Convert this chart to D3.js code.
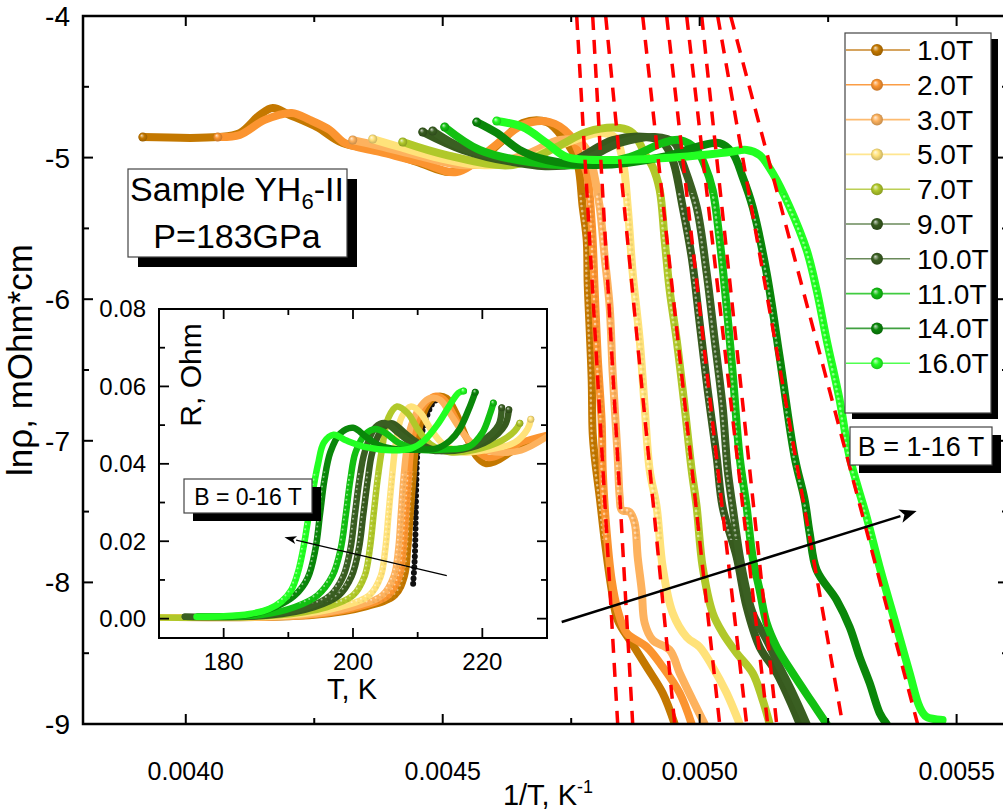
<!DOCTYPE html>
<html><head><meta charset="utf-8">
<script src="https://cdn.jsdelivr.net/npm/d3@7"></script>
<style>
html,body{margin:0;padding:0;background:#fff;}
svg{display:block;font-family:"Liberation Sans",Arial,Helvetica,sans-serif;}
</style></head><body>
<svg id="chart" width="1003" height="811"></svg>
<script>
// Field labels and colours (one per magnetic field)
const fields = ["1.0T","2.0T","3.0T","5.0T","7.0T","9.0T","10.0T","11.0T","14.0T","16.0T"];
const colors = ["#c47800","#fb9430","#fdb25e","#ffe27a","#b0c82a","#375a1e","#3a5f22","#12c012","#0a870a","#22ff22"];
const legendLineColors = ["#c8862a","#fb9d45","#fdbb70","#ffe690","#bccf55","#6a8a5a","#6a8a5a","#40cc40","#40a040","#50ff50"];

// ln(rho) versus 1/T, points as [1/T (K^-1), ln rho]
const lnRho1T = [[0.0039164,-4.855],[0.0040623,-4.855],[0.0041051,-4.826],[0.004144,-4.699],[0.0041693,-4.650],[0.0042023,-4.699],[0.0042549,-4.784],[0.0043055,-4.897],[0.0043774,-4.946],[0.0044553,-5.038],[0.0045136,-5.102],[0.004572,-5.017],[0.0046109,-4.897],[0.0046556,-4.756],[0.0047023,-4.749],[0.0047374,-4.876],[0.0047607,-5.017],[0.0047724,-5.349],[0.0047802,-5.582],[0.0047821,-5.886],[0.004786,-6.218],[0.0047899,-6.571],[0.0047918,-6.945],[0.0047957,-7.114],[0.0048055,-7.397],[0.0048152,-7.701],[0.0048288,-8.054],[0.0048405,-8.266],[0.0048677,-8.428],[0.0048969,-8.597],[0.004928,-8.781],[0.0049514,-9.0]];
const lnRho2T = [[0.0040623,-4.855],[0.0041051,-4.840],[0.0041537,-4.734],[0.0042062,-4.685],[0.0042413,-4.734],[0.0042802,-4.805],[0.0043094,-4.897],[0.0043774,-4.960],[0.0044553,-5.031],[0.0045272,-5.102],[0.0045914,-4.946],[0.0046556,-4.770],[0.0047082,-4.749],[0.0047471,-4.840],[0.0047665,-4.982],[0.0047802,-5.109],[0.0047899,-5.462],[0.0047957,-5.935],[0.0048016,-6.408],[0.0048094,-6.874],[0.0048113,-7.206],[0.0048171,-7.559],[0.0048288,-7.983],[0.0048405,-8.195],[0.004858,-8.357],[0.0048969,-8.456],[0.004928,-8.597],[0.0049611,-8.781],[0.0049844,-9.0]];
const lnRho3T = [[0.0043249,-4.876],[0.0043774,-4.918],[0.0044553,-4.989],[0.0045331,-5.052],[0.0046109,-5.031],[0.0046693,-4.968],[0.0047276,-4.876],[0.0047665,-4.890],[0.004786,-4.982],[0.0047918,-5.066],[0.0048055,-5.349],[0.0048152,-5.702],[0.0048249,-6.055],[0.0048307,-6.521],[0.0048405,-7.114],[0.0048444,-7.397],[0.0048483,-7.489],[0.0048638,-7.503],[0.0048735,-7.581],[0.0048794,-7.821],[0.0048872,-8.054],[0.004893,-8.287],[0.0049086,-8.407],[0.0049416,-8.477],[0.0049611,-8.640],[0.0049864,-8.831],[0.0050097,-9.0]];
const lnRho5T = [[0.0043638,-4.869],[0.0044164,-4.925],[0.0044942,-5.003],[0.004572,-5.052],[0.0046498,-5.031],[0.0047082,-4.946],[0.0047665,-4.862],[0.0048055,-4.826],[0.0048346,-4.855],[0.0048502,-5.017],[0.00486,-5.349],[0.0048697,-5.815],[0.0048833,-6.288],[0.004893,-6.761],[0.0049027,-7.206],[0.0049163,-7.468],[0.004928,-7.891],[0.0049475,-8.216],[0.0049747,-8.386],[0.005,-8.456],[0.0050253,-8.597],[0.0050525,-8.781],[0.0050778,-9.0]];
const lnRho7T = [[0.0044222,-4.890],[0.0045078,-4.982],[0.0046362,-5.052],[0.0047218,-4.925],[0.0047802,-4.819],[0.0048444,-4.791],[0.0048697,-4.826],[0.0048969,-4.996],[0.0049086,-5.066],[0.0049222,-5.229],[0.0049319,-5.582],[0.0049416,-5.935],[0.0049553,-6.288],[0.0049708,-6.761],[0.0049844,-7.206],[0.0049942,-7.468],[0.0050058,-7.891],[0.0050253,-8.216],[0.0050447,-8.357],[0.005072,-8.499],[0.0051031,-8.640],[0.0051226,-8.831],[0.0051362,-9.0]];
const lnRho9T = [[0.0044611,-4.819],[0.0045389,-4.946],[0.0046362,-5.031],[0.0047335,-5.052],[0.0048307,-4.876],[0.0048969,-4.855],[0.004928,-4.890],[0.0049475,-5.017],[0.0049669,-5.349],[0.0049844,-5.702],[0.005,-6.168],[0.0050156,-6.641],[0.0050331,-7.114],[0.0050447,-7.468],[0.005072,-7.821],[0.0050914,-8.174],[0.0051167,-8.456],[0.0051498,-8.640],[0.0051809,-8.880],[0.0051946,-9.0]];
const lnRho10T = [[0.0044806,-4.812],[0.0045389,-4.932],[0.0046362,-5.017],[0.0047471,-5.052],[0.0048444,-4.897],[0.0049125,-4.855],[0.0049514,-4.897],[0.0049669,-5.038],[0.0049942,-5.349],[0.0050136,-5.815],[0.0050292,-6.288],[0.0050447,-6.761],[0.0050545,-7.206],[0.0050642,-7.468],[0.0050817,-7.891],[0.0051031,-8.216],[0.0051303,-8.407],[0.0051556,-8.597],[0.0051809,-8.781],[0.0052082,-9.0]];
const lnRho11T = [[0.0045039,-4.784],[0.004572,-4.946],[0.0046693,-5.031],[0.0047665,-5.052],[0.0048638,-4.996],[0.004928,-4.897],[0.0049611,-4.876],[0.0049942,-4.946],[0.0050097,-5.052],[0.0050253,-5.229],[0.0050389,-5.582],[0.0050525,-6.055],[0.0050642,-6.521],[0.0050778,-7.114],[0.0050914,-7.468],[0.0051031,-7.821],[0.0051167,-8.054],[0.0051303,-8.287],[0.0051498,-8.456],[0.0051809,-8.640],[0.0052198,-8.852],[0.0052471,-9.0]];
const lnRho14T = [[0.0045661,-4.749],[0.0046051,-4.826],[0.0046498,-4.946],[0.0047023,-5.017],[0.0047996,-5.052],[0.004928,-4.996],[0.0049942,-4.925],[0.0050389,-4.897],[0.0050642,-4.968],[0.0050837,-5.137],[0.0051031,-5.349],[0.0051303,-5.815],[0.0051556,-6.408],[0.0051848,-7.114],[0.0052043,-7.418],[0.005214,-7.651],[0.0052276,-7.912],[0.0052665,-8.124],[0.0052918,-8.315],[0.0053113,-8.527],[0.0053307,-8.710],[0.0053502,-8.922],[0.0053638,-9.0]];
const lnRho16T = [[0.0046051,-4.742],[0.0046556,-4.784],[0.0047023,-4.897],[0.0047413,-4.996],[0.0048307,-5.017],[0.0049611,-4.996],[0.0050584,-4.960],[0.0050914,-4.946],[0.0051167,-4.982],[0.005142,-5.109],[0.0051751,-5.349],[0.0052082,-5.653],[0.0052276,-5.935],[0.0052471,-6.288],[0.0052724,-6.712],[0.0052918,-7.114],[0.0053249,-7.538],[0.0053502,-7.891],[0.0053833,-8.315],[0.0054086,-8.640],[0.005428,-8.880],[0.0054416,-8.950],[0.0054727,-8.972]];
const lnRhoSeries = [lnRho1T,lnRho2T,lnRho3T,lnRho5T,lnRho7T,lnRho9T,lnRho10T,lnRho11T,lnRho14T,lnRho16T];

// Activation fits (dashed), each [start, end] in [1/T, ln rho]
const fitLines = [
  [[0.0047607,-4.0],[0.0048405,-9.0]],
  [[0.0047918,-4.0],[0.0048697,-9.0]],
  [[0.0048171,-4.0],[0.0049514,-9.0]],
  [[0.0048891,-4.0],[0.0050389,-9.0]],
  [[0.0049358,-4.0],[0.0050914,-9.0]],
  [[0.0049747,-4.0],[0.0051323,-9.0]],
  [[0.0050039,-4.0],[0.0051498,-9.0]],
  [[0.005035,-4.0],[0.0052782,-9.0]],
  [[0.0050603,-4.0],[0.0054241,-9.0]]
];

// Inset: R (Ohm) versus T (K), points as [T, R]
const r0T = [[209.3,0.009],[209.5,0.014],[209.6,0.018],[209.7,0.027],[209.8,0.036],[210,0.043],[211,0.05],[212.5,0.056],[214,0.057],[215.5,0.054],[217,0.048]];
const r1T = [[170,0.0003],[194,0.0008],[202,0.003],[206.5,0.006],[208,0.011],[208.5,0.018],[208.9,0.027],[209.3,0.036],[209.7,0.044],[210.4,0.05],[211.5,0.055],[213,0.0575],[214.5,0.057],[216,0.053],[217.5,0.047],[219,0.042],[220.5,0.04],[222,0.0405],[224.5,0.043],[227,0.0455],[230,0.047]];
const r2T = [[170,0.0003],[193,0.0008],[201,0.003],[205.5,0.006],[207.2,0.011],[207.8,0.018],[208.2,0.027],[208.6,0.036],[209,0.044],[209.7,0.05],[211,0.055],[212.5,0.0575],[214,0.0568],[215.5,0.053],[217,0.048],[219,0.0435],[221,0.0415],[223,0.0425],[226,0.0455],[230,0.0475]];
const r3T = [[170,0.0003],[192,0.0008],[200,0.003],[204.5,0.006],[206.3,0.011],[207,0.018],[207.4,0.027],[207.8,0.036],[208.3,0.044],[209,0.05],[210.5,0.055],[212,0.057],[213.5,0.0565],[215,0.053],[217,0.048],[219,0.0445],[222,0.043],[226,0.0435],[230,0.047]];
const r5T = [[170,0.0003],[190,0.0008],[198,0.003],[202.5,0.006],[204.3,0.011],[205,0.018],[205.5,0.027],[206,0.036],[206.6,0.045],[207.5,0.052],[209,0.0548],[210.5,0.053],[212,0.049],[214,0.045],[217,0.043],[221,0.0437],[225,0.0455],[227,0.049],[227.5,0.0515]];
const r7T = [[170,0.0003],[188,0.0008],[196,0.003],[200,0.006],[201.8,0.011],[202.6,0.018],[203.2,0.027],[203.8,0.036],[204.5,0.044],[205.5,0.052],[206.8,0.0548],[208.5,0.053],[210,0.049],[212,0.045],[215,0.043],[219,0.0437],[223,0.046],[225,0.0485],[225.8,0.0505]];
const r9T = [[174,0.0005],[187,0.0008],[194,0.003],[197.8,0.006],[199.8,0.011],[200.9,0.018],[201.6,0.027],[202.3,0.036],[203,0.043],[204.5,0.049],[206,0.0505],[208,0.048],[210,0.0455],[213,0.0435],[217,0.0437],[221,0.046],[223.5,0.05],[224.1,0.054]];
const r10T = [[174,0.0005],[186,0.0008],[193,0.003],[196.5,0.006],[198.5,0.011],[199.6,0.018],[200.3,0.027],[201,0.036],[201.8,0.043],[203.5,0.0495],[205,0.0505],[207,0.048],[209,0.0455],[212,0.0435],[216,0.0437],[220,0.046],[222.5,0.05],[223,0.0545]];
const r11T = [[176,0.0005],[186,0.001],[191,0.003],[194.5,0.006],[196.8,0.011],[198.1,0.018],[198.9,0.027],[199.6,0.036],[200.4,0.043],[202,0.0478],[203.5,0.049],[205,0.048],[207,0.0455],[210,0.0437],[214,0.0437],[218,0.0445],[220,0.048],[221.2,0.053],[221.7,0.0557]];
const r14T = [[176,0.0005],[184,0.001],[188,0.003],[191,0.006],[193,0.0105],[194.2,0.018],[194.9,0.027],[195.6,0.036],[196.5,0.043],[198,0.0478],[200,0.0493],[202,0.047],[204,0.0448],[207,0.0437],[210,0.0437],[213,0.044],[215,0.046],[216.5,0.049],[218,0.0545],[218.9,0.0585]];
const r16T = [[175.8,0.0005],[180,0.0006],[184,0.0012],[187,0.0025],[189,0.0045],[190.5,0.0075],[191.5,0.012],[192.3,0.018],[193,0.025],[193.8,0.033],[194.6,0.04],[195.5,0.0455],[197,0.0475],[199,0.046],[202,0.0443],[206,0.0435],[209,0.044],[211,0.046],[213,0.05],[214.8,0.0547],[216.3,0.0583],[217.1,0.0588]];
const insetSeries = [r1T,r2T,r3T,r5T,r7T,r9T,r10T,r11T,r14T,r16T];

// Axis ticks
const mainXTicks = [0.0040,0.0045,0.0050,0.0055];
const mainXMinor = [0.00375,0.00425,0.00475,0.00525,0.00575];
const mainYTicks = [-9,-8,-7,-6,-5,-4];
const mainYMinor = [-8.5,-7.5,-6.5,-5.5,-4.5];
const insetXTicks = [180,200,220];
const insetXMinor = [170,190,210,230];
const insetYTicks = [0,0.02,0.04,0.06,0.08];
const insetYMinor = [0.01,0.03,0.05,0.07];

// Arrows: from -> to
const mainArrow = [[0.0047315,-8.280],[0.0054222,-7.496]];
const insetArrow = [[214.5,0.0111],[189.4,0.021]];

const svg = d3.select("#chart");
const W = 1003, H = 811;
svg.append("rect").attr("width",W).attr("height",H).attr("fill","#fff");

const defs = svg.append("defs");
function sphere(id, c){
  const g = defs.append("radialGradient").attr("id",id).attr("cx","50%").attr("cy","50%").attr("r","55%").attr("fx","35%").attr("fy","30%");
  g.append("stop").attr("offset","0%").attr("stop-color",d3.interpolateRgb(c,"#fff")(0.75));
  g.append("stop").attr("offset","45%").attr("stop-color",c);
  g.append("stop").attr("offset","100%").attr("stop-color",d3.color(c).darker(0.8));
}
colors.forEach((c,i)=>sphere("sph"+i,c));

// Draws a series as a thick line, with bead highlights along the steep part
function drawSeries(g, d, color, width, bandId){
  g.append("path").attr("d",d).attr("fill","none")
    .attr("stroke",color).attr("stroke-width",width)
    .attr("stroke-linejoin","round").attr("stroke-linecap","round");
  const b = g.append("g").attr("clip-path",`url(#${bandId})`);
  b.append("path").attr("d",d).attr("fill","none").attr("stroke",d3.color(color).darker(0.6)).attr("stroke-opacity",0.35)
    .attr("stroke-width",width*0.35).attr("stroke-linecap","round").attr("stroke-dasharray","0 5")
    .attr("transform","translate(1.3,1.3)");
  b.append("path").attr("d",d).attr("fill","none").attr("stroke","#fff").attr("stroke-opacity",0.5)
    .attr("stroke-width",width*0.32).attr("stroke-linecap","round").attr("stroke-dasharray","0 5")
    .attr("transform","translate(-1.2,-1.2)");
}

// ---------- main plot ----------
const M = {l:83, t:16, r:1008, b:724};
const x = d3.scaleLinear().domain([0.0038,0.0056]).range([M.l,M.r]);
const y = d3.scaleLinear().domain([-9,-4]).range([M.b,M.t]);

defs.append("clipPath").attr("id","mainClip").append("rect")
  .attr("x",M.l).attr("y",M.t).attr("width",M.r-M.l).attr("height",M.b-M.t);
// bead band for the steep part of the transitions
const bandTop = y(-5.25), bandBot = y(-7.7);
defs.append("clipPath").attr("id","mainBand").append("rect")
  .attr("x",M.l).attr("y",bandTop).attr("width",M.r-M.l).attr("height",bandBot-bandTop);

const plot = svg.append("g").attr("clip-path","url(#mainClip)");
const lineMain = d3.line().x(d=>x(d[0])).y(d=>y(d[1])).curve(d3.curveCatmullRom.alpha(0.5));

lnRhoSeries.forEach((s,i)=>{
  drawSeries(plot, lineMain(s), colors[i], 8, "mainBand");
});
lnRhoSeries.forEach((s,i)=>{
  plot.append("circle").attr("cx",x(s[0][0])).attr("cy",y(s[0][1])).attr("r",4.5)
    .attr("fill",`url(#sph${i})`);
});

// dashed fits
plot.selectAll("path.fit").data(fitLines).join("path").attr("class","fit")
  .attr("d",d=>d3.line().x(p=>x(p[0])).y(p=>y(p[1]))(d))
  .attr("fill","none").attr("stroke","#ff0000").attr("stroke-width",3.5)
  .attr("stroke-dasharray","14,10");

// frame
svg.append("rect").attr("x",M.l).attr("y",M.t).attr("width",M.r-M.l).attr("height",M.b-M.t)
  .attr("fill","none").attr("stroke","#000").attr("stroke-width",2.5);

// ticks (inward)
const tk = svg.append("g").attr("stroke","#000").attr("stroke-width",2);
mainXTicks.forEach(v=>{
  tk.append("line").attr("x1",x(v)).attr("x2",x(v)).attr("y1",M.b).attr("y2",M.b-10);
  tk.append("line").attr("x1",x(v)).attr("x2",x(v)).attr("y1",M.t).attr("y2",M.t+10);
});
mainXMinor.forEach(v=>{
  tk.append("line").attr("x1",x(v)).attr("x2",x(v)).attr("y1",M.b).attr("y2",M.b-6);
  tk.append("line").attr("x1",x(v)).attr("x2",x(v)).attr("y1",M.t).attr("y2",M.t+6);
});
mainYTicks.forEach(v=>{
  tk.append("line").attr("x1",M.l).attr("x2",M.l+10).attr("y1",y(v)).attr("y2",y(v));
  tk.append("line").attr("x1",M.r).attr("x2",M.r-10).attr("y1",y(v)).attr("y2",y(v));
});
mainYMinor.forEach(v=>{
  tk.append("line").attr("x1",M.l).attr("x2",M.l+6).attr("y1",y(v)).attr("y2",y(v));
  tk.append("line").attr("x1",M.r).attr("x2",M.r-6).attr("y1",y(v)).attr("y2",y(v));
});

// tick labels
svg.append("g").selectAll("text").data(mainXTicks).join("text")
  .attr("x",d=>x(d)).attr("y",M.b+56).attr("text-anchor","middle")
  .attr("font-size",25).text(d=>d.toFixed(4));
svg.append("g").selectAll("text").data(mainYTicks).join("text")
  .attr("x",M.l-13).attr("y",d=>y(d)).attr("dy","0.36em").attr("text-anchor","end")
  .attr("font-size",28).text(d=>String(d));

// axis titles
const xt = svg.append("text").attr("x",548).attr("y",805).attr("text-anchor","middle").attr("font-size",29);
xt.append("tspan").text("1/T, K");
xt.append("tspan").attr("font-size",18).attr("dy",-12).text("-1");
svg.append("text").attr("transform","translate(32,360) rotate(-90)").attr("text-anchor","middle")
  .attr("font-size",35).text("ln\u03c1, mOhm*cm");

// arrows
function arrow(g, x1,y1,x2,y2, w, head, hw){
  const a = Math.atan2(y2-y1,x2-x1);
  const bx = x2 - head*Math.cos(a), by = y2 - head*Math.sin(a);
  g.append("line").attr("x1",x1).attr("y1",y1).attr("x2",bx).attr("y2",by)
    .attr("stroke","#000").attr("stroke-width",w);
  const px = -Math.sin(a)*hw, py = Math.cos(a)*hw;
  g.append("path").attr("d",`M${x2},${y2}L${bx+px},${by+py}L${bx+head*0.25*Math.cos(a)},${by+head*0.25*Math.sin(a)}L${bx-px},${by-py}Z`).attr("fill","#000");
}
arrow(svg, x(mainArrow[0][0]),y(mainArrow[0][1]),x(mainArrow[1][0]),y(mainArrow[1][1]),2.5,17,7);

// text boxes with drop shadow
function shadowBox(g, bx, by, bw, bh, off){
  g.append("rect").attr("x",bx+off[0]).attr("y",by+off[1]).attr("width",bw).attr("height",bh).attr("fill","#000");
  g.append("rect").attr("x",bx).attr("y",by).attr("width",bw).attr("height",bh).attr("fill","#fff").attr("stroke","#444").attr("stroke-width",1.2);
}
shadowBox(svg,128,169,219,88,[10,10]);
const s1 = svg.append("text").attr("x",237).attr("y",201).attr("text-anchor","middle").attr("font-size",34);
s1.append("tspan").text("Sample YH");
s1.append("tspan").attr("font-size",22).attr("dy",8).text("6");
s1.append("tspan").attr("dy",-8).text("-II");
svg.append("text").attr("x",237).attr("y",248).attr("text-anchor","middle").attr("font-size",34).text("P=183GPa");

shadowBox(svg,850,427,142,38,[9,8]);
svg.append("text").attr("x",921).attr("y",456).attr("text-anchor","middle").attr("font-size",27).text("B = 1-16 T");

// ---------- legend ----------
shadowBox(svg,845,33,146,380,[7,6]);
fields.forEach((f,i)=>{
  const cy = 50 + i*34.8;
  svg.append("line").attr("x1",846).attr("x2",910).attr("y1",cy).attr("y2",cy)
    .attr("stroke",legendLineColors[i]).attr("stroke-width",1.6);
  svg.append("circle").attr("cx",877).attr("cy",cy).attr("r",6).attr("fill",`url(#sph${i})`);
  svg.append("text").attr("x",917).attr("y",cy).attr("dy","0.36em").attr("font-size",28).text(f);
});

// ---------- inset ----------
const I = {l:159, t:309, r:547, b:638};
const xi = d3.scaleLinear().domain([170,230]).range([I.l,I.r]);
const yi = d3.scaleLinear().domain([-0.005,0.08]).range([I.b,I.t]);
svg.append("rect").attr("x",I.l).attr("y",I.t).attr("width",I.r-I.l).attr("height",I.b-I.t).attr("fill","#fff");
defs.append("clipPath").attr("id","insetClip").append("rect")
  .attr("x",I.l).attr("y",I.t).attr("width",I.r-I.l).attr("height",I.b-I.t);
const iTop = yi(0.038), iBot = yi(0.004);
defs.append("clipPath").attr("id","insetBand").append("rect")
  .attr("x",I.l).attr("y",iTop).attr("width",I.r-I.l).attr("height",iBot-iTop);

const ip = svg.append("g").attr("clip-path","url(#insetClip)");
const lineInset = d3.line().x(d=>xi(d[0])).y(d=>yi(d[1])).curve(d3.curveCatmullRom.alpha(0.5));
ip.append("path").attr("d",lineInset(r0T)).attr("fill","none").attr("stroke","#111").attr("stroke-width",6)
  .attr("stroke-dasharray","0 5.5").attr("stroke-linecap","round");
insetSeries.forEach((s,i)=>{
  drawSeries(ip, lineInset(s), colors[i], 6.5, "insetBand");
});
insetSeries.forEach((s,i)=>{
  const p = s[s.length-1];
  if (p[0] < 229) ip.append("circle").attr("cx",xi(p[0])).attr("cy",yi(p[1])).attr("r",3.5).attr("fill",`url(#sph${i})`);
});
svg.append("rect").attr("x",I.l).attr("y",I.t).attr("width",I.r-I.l).attr("height",I.b-I.t)
  .attr("fill","none").attr("stroke","#000").attr("stroke-width",2);
const itk = svg.append("g").attr("stroke","#000").attr("stroke-width",1.8);
insetXTicks.forEach(v=>{
  itk.append("line").attr("x1",xi(v)).attr("x2",xi(v)).attr("y1",I.b).attr("y2",I.b-10);
  itk.append("line").attr("x1",xi(v)).attr("x2",xi(v)).attr("y1",I.t).attr("y2",I.t+10);
});
insetXMinor.forEach(v=>{
  itk.append("line").attr("x1",xi(v)).attr("x2",xi(v)).attr("y1",I.b).attr("y2",I.b-6);
  itk.append("line").attr("x1",xi(v)).attr("x2",xi(v)).attr("y1",I.t).attr("y2",I.t+6);
});
insetYTicks.forEach(v=>{
  itk.append("line").attr("x1",I.l).attr("x2",I.l+10).attr("y1",yi(v)).attr("y2",yi(v));
  itk.append("line").attr("x1",I.r).attr("x2",I.r-10).attr("y1",yi(v)).attr("y2",yi(v));
});
insetYMinor.forEach(v=>{
  itk.append("line").attr("x1",I.l).attr("x2",I.l+6).attr("y1",yi(v)).attr("y2",yi(v));
  itk.append("line").attr("x1",I.r).attr("x2",I.r-6).attr("y1",yi(v)).attr("y2",yi(v));
});
svg.append("g").selectAll("text").data(insetXTicks).join("text")
  .attr("x",d=>xi(d)).attr("y",I.b+32).attr("text-anchor","middle").attr("font-size",24).text(d=>d);
svg.append("g").selectAll("text").data(insetYTicks).join("text")
  .attr("x",I.l-13).attr("y",d=>yi(d)).attr("dy","0.35em").attr("text-anchor","end")
  .attr("font-size",24).text(d=>d.toFixed(2));
svg.append("text").attr("x",352).attr("y",699).attr("text-anchor","middle").attr("font-size",29).text("T, K");
svg.append("text").attr("transform","translate(201,375) rotate(-90)").attr("text-anchor","middle")
  .attr("font-size",30).text("R, Ohm");

// inset box + arrow
shadowBox(svg,184,479,128,34,[9,8]);
svg.append("text").attr("x",248).attr("y",505).attr("text-anchor","middle").attr("font-size",23).text("B = 0-16 T");
arrow(svg, xi(insetArrow[0][0]),yi(insetArrow[0][1]),xi(insetArrow[1][0]),yi(insetArrow[1][1]),1.3,12,4);
</script>
</body></html>
